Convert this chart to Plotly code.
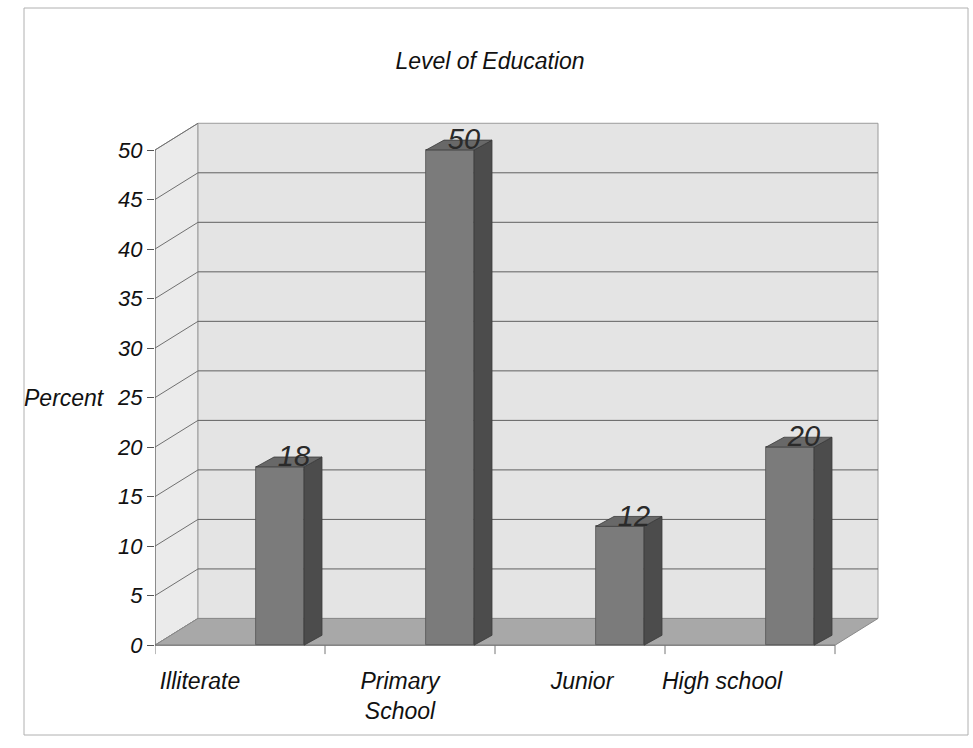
import plotly.graph_objects as go

# ---- data ----
categories = ["Illiterate", "Primary School", "Junior", "High school"]
tick_labels = ["Illiterate", "Primary<br>School", "Junior", "High school"]
percent = [18, 50, 12, 20]
y_ticks = [0, 5, 10, 15, 20, 25, 30, 35, 40, 45, 50]

FONT = "Liberation Sans, Arial, sans-serif"

# ---- geometry of the faux 3-D frame (data units) ----
slot = 170                      # width of one category slot
n = len(categories)
floor_w = slot * n              # front floor width
dx, dy = 43, 2.7                # depth offset of back wall
bdx, bdy = 18, 1.0              # depth offset of bar side/top
bw = 48                         # bar front width
bar_shift = 40
ymax = max(y_ticks)

bar_x = [slot * (i + 0.5) + bar_shift for i in range(n)]
label_x = [slot * (i + 0.5) + off for i, off in enumerate([-40, -10, 2, -28])]

fig = go.Figure()

shapes = []
def path(pts):
    return "M " + " L ".join(f"{x},{y}" for x, y in pts) + " Z"

# side wall
shapes.append(dict(type="path", xref="x", yref="y", layer="below",
                   path=path([(0, 0), (dx, dy), (dx, ymax + dy), (0, ymax)]),
                   fillcolor="#ebebeb", line=dict(color="#9a9a9a", width=1)))
# back wall
shapes.append(dict(type="path", xref="x", yref="y", layer="below",
                   path=path([(dx, dy), (floor_w + dx, dy), (floor_w + dx, ymax + dy), (dx, ymax + dy)]),
                   fillcolor="#e4e4e4", line=dict(color="#9a9a9a", width=1)))
# gridlines
for v in y_ticks:
    shapes.append(dict(type="line", xref="x", yref="y", layer="below",
                       x0=0, y0=v, x1=dx, y1=v + dy, line=dict(color="#707070", width=1)))
    if 0 < v < ymax:
        shapes.append(dict(type="line", xref="x", yref="y", layer="below",
                           x0=dx, y0=v + dy, x1=floor_w + dx, y1=v + dy,
                           line=dict(color="#606060", width=1)))
# floor
shapes.append(dict(type="path", xref="x", yref="y", layer="below",
                   path=path([(0, 0), (floor_w, 0), (floor_w + dx, dy), (dx, dy)]),
                   fillcolor="#a8a8a8", line=dict(color="#8a8a8a", width=1)))
# front axis line
shapes.append(dict(type="line", xref="x", yref="y", layer="below",
                   x0=0, y0=0, x1=0, y1=ymax, line=dict(color="#555555", width=1)))
# category tick marks on floor front edge
for i in range(n + 1):
    shapes.append(dict(type="line", xref="x", yref="y", layer="below",
                       x0=slot * i, y0=0, x1=slot * i, y1=-0.9,
                       line=dict(color="#777777", width=1)))
shapes.append(dict(type="line", xref="x", yref="y", layer="below",
                   x0=0, y0=0, x1=floor_w, y1=0, line=dict(color="#777777", width=1)))
# page border
shapes.append(dict(type="rect", xref="paper", yref="paper", layer="below",
                   x0=(24 - 155) / 735, x1=(968 - 155) / 735,
                   y0=(665 - 735) / 555, y1=(665 - 8) / 555,
                   line=dict(color="#b0b0b0", width=1)))

# bar fronts
fig.add_trace(go.Bar(x=bar_x, y=percent, width=bw, base=0,
                     marker=dict(color="#7b7b7b", line=dict(color="#555555", width=0.8)),
                     hovertext=categories, showlegend=False))

# bar side and top faces
for xc, v in zip(bar_x, percent):
    xl, xr = xc - bw / 2, xc + bw / 2
    fig.add_trace(go.Scatter(x=[xr, xr + bdx, xr + bdx, xr, xr],
                             y=[0, bdy, v + bdy, v, 0],
                             fill="toself", fillcolor="#4c4c4c", mode="lines",
                             line=dict(color="#3a3a3a", width=0.8),
                             hoverinfo="skip", showlegend=False))
    fig.add_trace(go.Scatter(x=[xl, xl + bdx, xr + bdx, xr, xl],
                             y=[v, v + bdy, v + bdy, v, v],
                             fill="toself", fillcolor="#686868", mode="lines",
                             line=dict(color="#3a3a3a", width=0.8),
                             hoverinfo="skip", showlegend=False))

# value labels
fig.add_trace(go.Scatter(x=[x + 14 for x in bar_x], y=[v + 0.8 for v in percent],
                         text=[str(v) for v in percent], mode="text",
                         textposition="middle center",
                         textfont=dict(family=FONT, size=29, color="#2a2a2a", style="italic"),
                         hoverinfo="skip", showlegend=False))

fig.update_layout(
    width=973, height=748,
    margin=dict(l=155, r=83, t=110, b=83),
    paper_bgcolor="white", plot_bgcolor="white",
    shapes=shapes,
    xaxis=dict(range=[0, 735], showgrid=False, zeroline=False, showline=False,
               tickvals=label_x, ticktext=tick_labels, ticks="",
               tickfont=dict(family=FONT, size=23, color="#111111", style="italic")),
    yaxis=dict(range=[-2.0, 54.04], showgrid=False, zeroline=False, showline=False,
               tickvals=y_ticks, ticks="outside", ticklen=7, tickcolor="#555555",
               tickfont=dict(family=FONT, size=22, color="#111111", style="italic")),
    title=dict(text="Level of Education", x=490 / 973, xref="container", xanchor="center",
               y=1 - 61 / 748, yref="container", yanchor="middle",
               font=dict(family=FONT, size=23, color="#111111", style="italic")),
    annotations=[dict(text="Percent", xref="paper", yref="y", x=(107 - 155) / 735, y=25,
                      xanchor="right", yanchor="middle", showarrow=False,
                      font=dict(family=FONT, size=23, color="#111111", style="italic"))],
    bargap=0,
)

fig.write_html("out.html")
